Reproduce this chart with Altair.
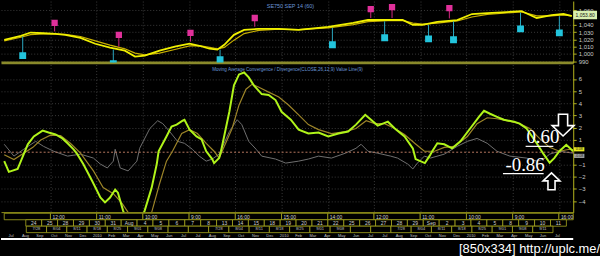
import altair as alt
import pandas as pd

# ---------------- price panel data (SE750 SEP 14, 60 min) ----------------
price_bar = [0, 3.6, 5.7, 8.5, 11.1, 13.2, 16.5, 19.7, 22.9, 26.1,
             28.3, 30.4, 33.6, 36.9, 40.1, 42.2, 44.4, 46.1, 47.6, 49.7,
             51.9, 55.1, 59.4, 63.7, 70.1, 75.5, 78.7, 83.0, 86.2, 88.4,
             90.5, 93.7, 98.0, 101.2, 104.5, 108.7, 111.9, 115.2, 118.4, 121.0,
             122.8]
ma_fast = [1019.5, 1024.9, 1029.5, 1028.5, 1027.7, 1026.3, 1022.2, 1014.0, 1008.5, 1004.4,
           996.2, 997.5, 1004.4, 1009.9, 1014.0, 1011.2, 1007.1, 1005.8, 1012.6, 1026.3,
           1033.2, 1034.5, 1034.5, 1033.2, 1037.3, 1042.7, 1046.8, 1046.8, 1046.8, 1040.0,
           1040.0, 1044.1, 1046.8, 1055.1, 1056.4, 1057.8, 1059.2, 1049.6, 1053.7, 1055.1,
           1052.3]
ma_slow = [1018.0, 1023.0, 1026.5, 1027.5, 1027.5, 1027.0, 1024.0, 1018.0, 1012.0, 1007.0,
           1001.0, 998.5, 1001.0, 1006.0, 1011.0, 1011.5, 1009.0, 1007.0, 1009.0, 1019.0,
           1028.0, 1032.5, 1034.0, 1033.5, 1036.0, 1040.5, 1044.5, 1046.0, 1046.3, 1042.5,
           1041.0, 1042.5, 1045.5, 1051.0, 1054.5, 1056.5, 1058.0, 1052.5, 1052.5, 1054.0,
           1053.0]
last_price = [1053.80]

sell_bar = [10.9, 24.8, 40.3, 54.2, 79.3, 83.9, 96.3]
sell_price = [1042.7, 1026.3, 1029.0, 1049.6, 1061.9, 1064.7, 1063.3]
sell_high = [1031.0, 1010.0, 1017.0, 1037.5, 1049.5, 1049.5, 1049.0]

buy_bar = [4.0, 23.6, 46.7, 71.0, 82.3, 91.8, 97.2, 111.7, 120.1]
buy_price = [997.5, 986.6, 992.0, 1012.6, 1022.2, 1020.8, 1019.5, 1034.5, 1029.0]
buy_low = [1024.0, 1006.0, 1006.0, 1036.0, 1045.0, 1040.0, 1045.0, 1057.0, 1052.0]

# ---------------- MACD panel data ----------------
macd_bar = [0, 1.0, 2.9, 3.6, 5.1, 6.4, 8.3, 9.6, 11.1, 12.6,
            13.7, 15.0, 15.8, 17.1, 19.0, 20.8, 21.8, 22.9, 24.0, 24.6,
            25.7, 26.8, 28.3, 29.3, 30.4, 31.9, 33.0, 33.4, 35.1, 36.2,
            37.3, 38.6, 39.0, 40.1, 41.6, 42.7, 43.7, 45.0, 45.4, 46.5,
            46.9, 48.7, 49.7, 50.8, 51.9, 52.9, 54.0, 55.7, 57.2, 58.7,
            60.0, 62.0, 63.7, 65.8, 68.0, 70.1, 72.3, 74.4, 76.1, 78.1,
            79.1, 80.8, 83.0, 84.5, 86.6, 88.4, 89.0, 91.0, 92.0, 92.6,
            93.7, 95.2, 96.9, 98.7, 100.8, 102.7, 103.8, 105.1, 106.6, 108.1,
            110.3, 111.5, 113.0, 115.2, 116.7, 118.0, 119.0, 120.1, 121.6, 123.1]
macd_val = [-0.73, -1.61, -1.37, -0.73, 0.65, 1.29, 1.77, 1.61, 1.45, 1.13,
            0.73, 0.24, -0.16, -0.97, -2.34, -3.71, -4.11, -3.71, -3.06, -3.31,
            -4.76, -6.0, -6.8, -6.0, -4.76, -2.90, -0.97, 0.08, 1.29, 2.10,
            2.26, 2.58, 2.66, 1.85, 1.29, 1.05, 0.08, -0.56, -0.89, -0.48,
            0.08, 3.31, 5.48, 6.37, 6.53, 6.13, 5.48, 4.76, 4.68, 4.27,
            3.31, 2.66, 1.85, 1.53, 1.61, 1.29, 1.53, 1.69, 2.26, 3.06,
            2.74, 2.18, 2.50, 1.94, 1.29, 0.32, -0.56, -0.89, -0.32, 0.08,
            0.73, 0.65, 0.32, 0.89, 1.94, 2.90, 3.39, 3.15, 2.90, 2.66,
            2.50, 2.34, 1.94, 0.73, -0.16, -0.86, -0.48, 0.08, 0.60, 0.08]
sig_bar = [0, 2.1, 6.2, 7.9, 10.0, 12.2, 14.3, 16.5, 19.3, 21.4,
           23.6, 25.5, 26.8, 28.3, 30.4, 31.9, 33.6, 35.1, 36.4, 38.4,
           40.1, 41.8, 43.7, 45.4, 46.5, 49.3, 50.8, 52.3, 53.6, 55.1,
           57.2, 59.4, 61.5, 63.7, 65.8, 68.0, 70.8, 73.8, 76.1, 78.3,
           80.2, 82.3, 84.5, 86.6, 88.8, 90.9, 93.1, 95.2, 97.4, 100.2,
           102.3, 104.5, 106.6, 108.7, 111.5, 113.7, 115.8, 118.0, 120.1, 122.3,
           123.1]
sig_val = [-0.2, -0.6, 0.4, 1.0, 1.4, 1.37, 0.73, -0.08, -1.53, -2.90,
           -3.39, -4.19, -4.92, -6.0, -5.7, -4.92, -2.58, -0.73, 0.08, 1.53,
           1.85, 1.53, 0.73, 0.08, -0.48, 1.94, 3.87, 5.16, 5.56, 5.32,
           4.92, 4.52, 3.87, 3.06, 2.26, 1.85, 1.53, 1.69, 1.94, 2.58,
           2.34, 2.34, 1.94, 1.45, 0.73, 0.08, 0.08, 0.40, 0.48, 1.29,
           2.34, 2.82, 2.74, 2.58, 2.34, 1.94, 1.13, 0.40, 0.08, 0.24,
           0.20]
hist_bar = [0, 2.1, 4.2, 6.8, 8.5, 10.7, 13.7, 16.5, 19.3, 20.8,
            22.3, 23.6, 24.0, 25.1, 26.8, 28.7, 29.3, 31.5, 33.2, 34.3,
            35.8, 37.5, 39.0, 40.7, 42.2, 43.7, 45.0, 46.5, 48.7, 50.4,
            51.4, 52.9, 54.5, 55.7, 58.7, 60.9, 63.7, 65.8, 68.0, 70.8,
            73.8, 76.1, 77.2, 78.7, 80.8, 83.6, 85.1, 87.3, 88.4, 89.4,
            90.9, 92.2, 95.2, 98.0, 100.2, 102.3, 104.5, 106.6, 109.4, 113.0,
            115.2, 116.7, 118.0, 120.1, 123.1]
hist_val = [0.65, -0.32, 0.24, 0.89, 0.48, 0.08, -0.32, -0.16, -0.48, -0.97,
            -1.29, -0.73, 0.24, -1.29, -1.53, -0.73, 0.32, 1.94, 2.58, 2.34,
            1.69, 0.89, 0.73, 0.24, -0.32, -0.73, -0.56, -0.16, 1.69, 2.66,
            2.26, 0.89, 0.24, -0.32, -0.56, -0.89, -0.73, -0.56, -0.32, -0.48,
            -0.08, 0.32, 0.65, 0.08, -0.08, -0.32, -0.48, -0.97, -1.37, -0.89,
            -0.32, -0.48, -0.16, 0.48, 0.89, 1.13, 0.73, 0.08, -0.32, -0.48,
            -0.73, -0.56, -0.16, 0.08, -0.08]

# annotations (label, bar, value of the marked point)
note_label = ["0.60", "-0.86"]
note_bar = [121.6, 118.0]
note_val = [0.60, -0.86]
axis_box_label = ["0.08", "-0.08"]
axis_box_val = [0.24, -0.30]

# ---------------- navigator strip labels ----------------
hour_start = [0, 10, 20, 30, 40, 50, 60, 70, 80, 90, 100, 110, 120]
hour_label = ["", "12:00", "11:00", "10:00", "9:00", "16:00", "15:00", "14:00",
              "12:00", "11:00", "10:00", "9:00", "16:00"]
day_label = ["24", "25", "28", "29", "30", "31", "Aug", "4", "5", "6", "7", "8", "13",
             "14", "15", "18", "19", "20", "21", "22", "25", "26", "27", "28", "29",
             "Sep", "2", "3", "4", "5", "8", "9", "10", "11"]
week_label = ["7/28", "8/04", "8/11", "8/18", "8/25", "9/01", "9/08", "", "",
              "7/28", "8/04", "8/11", "8/18", "8/25", "9/01", "9/08", "", "",
              "7/28", "8/04", "8/11", "8/18", "8/25", "9/01", "9/08", "9/11"]
month_label = ["Jul", "Aug", "Sep", "Oct", "Nov", "Dec", "2010", "Feb", "Mar", "Apr", "May", "Jun", "Jul"]

# ---------------- styling ----------------
X_DOM = [-0.7, 123.1]
W = 577
GRID = "#3a3a3a"
AXC = "#b4b41e"
LBL = "#c8c8c8"
BLUE = "#6a96d8"
FONT = "Liberation Sans"

xs = alt.Scale(domain=X_DOM, nice=False, zero=False)
ys_price = alt.Scale(domain=[988, 1073], nice=False, zero=False)
ys_m = alt.Scale(domain=[-4.92, 7.18], nice=False, zero=False)


def xgrid_axis(domain_color, domain_width):
    return alt.Axis(orient="bottom", values=list(range(10, 121, 10)), labels=False, ticks=False,
                    grid=True, gridColor=GRID, gridDash=[1, 2], domainColor=domain_color,
                    domainWidth=domain_width, title=None)


def yaxis(values, fmt):
    return alt.Axis(orient="right", values=values, format=fmt, labelColor=LBL, labelFontSize=6,
                    labelFont=FONT, tickColor=AXC, tickSize=3, domainColor=AXC, grid=True,
                    gridColor=GRID, gridDash=[1, 2], title=None, labelPadding=2)


# shared position encodings (identical axis specs in every layer)
def PX(field="bar"):
    return alt.X(f"{field}:Q", scale=xs, axis=xgrid_axis("#8a8a2a", 3), title=None)


def PY(field):
    return alt.Y(f"{field}:Q", scale=ys_price,
                 axis=yaxis([990, 1000, 1010, 1020, 1030, 1040, 1060], ",d"), title=None)


def MX(field="bar"):
    return alt.X(f"{field}:Q", scale=xs, axis=xgrid_axis(AXC, 1), title=None)


def MY(field):
    return alt.Y(f"{field}:Q", scale=ys_m, axis=yaxis([-4, -3, -2, -1, 1, 2, 3, 4, 5, 6], "d"), title=None)


# ---------------- top: price panel ----------------
price_df = pd.DataFrame({"bar": price_bar, "fast": ma_fast, "slow": ma_slow})
base_p = alt.Chart(price_df)
slow_line = base_p.mark_line(color="#c8b000", strokeWidth=1.2, clip=True).encode(x=PX(), y=PY("slow"))
fast_line = base_p.mark_line(color="#f0f000", strokeWidth=1.8, clip=True).encode(x=PX(), y=PY("fast"))

sell_df = pd.DataFrame({"bar": sell_bar, "price": sell_price, "high": sell_high})
buy_df = pd.DataFrame({"bar": buy_bar, "price": buy_price, "low": buy_low})

sell_stem = alt.Chart(sell_df).mark_rule(color="#d02a80", strokeWidth=1, clip=True).encode(
    x=PX(), y=PY("price"), y2="high:Q")
buy_stem = alt.Chart(buy_df).mark_rule(color="#2aa8c0", strokeWidth=1, clip=True).encode(
    x=PX(), y=PY("price"), y2="low:Q")
sell_box = alt.Chart(sell_df).mark_square(size=40, color="#e0309a", opacity=1, clip=True).encode(
    x=PX(), y=PY("price"))
buy_box = alt.Chart(buy_df).mark_square(size=48, color="#22c4dc", opacity=1, clip=True).encode(
    x=PX(), y=PY("price"))

price_title = alt.Chart(pd.DataFrame({"t": ["SE750 SEP 14  (60)"], "bar": [56.8], "p": [1066]})).mark_text(
    color=BLUE, fontSize=5.5, font=FONT, align="left", baseline="middle").encode(
    x=PX(), y=PY("p"), text="t:N")

last_df = pd.DataFrame({"p": last_price, "t": ["1,053.80"]})
last_box = alt.Chart(last_df).mark_point(
    shape="M-1,-0.3L1,-0.3L1,0.3L-1,0.3Z", size=484, filled=True, fill="#d8f0b0",
    stroke="#d8f0b0", opacity=1).encode(x=alt.value(589), y=PY("p"))
last_txt = alt.Chart(last_df).mark_text(fontSize=5, font=FONT, color="#202020").encode(
    x=alt.value(589), y=PY("p"), text="t:N")

top = alt.layer(slow_line, fast_line, sell_stem, buy_stem, sell_box, buy_box, price_title,
                last_box, last_txt).properties(width=W, height=62)

# ---------------- middle: MACD panel ----------------
hist_df = pd.DataFrame({"bar": hist_bar, "v": hist_val})
sig_df = pd.DataFrame({"bar": sig_bar, "v": sig_val})
macd_df = pd.DataFrame({"bar": macd_bar, "v": macd_val})

hist_line = alt.Chart(hist_df).mark_line(color="#707070", strokeWidth=1, clip=True).encode(x=MX(), y=MY("v"))
zero_rule = alt.Chart(pd.DataFrame({"z": [0]})).mark_rule(
    color="#b87860", strokeDash=[2, 2], strokeWidth=1).encode(y=MY("z"))
sig_line = alt.Chart(sig_df).mark_line(color="#9c8428", strokeWidth=1.2, clip=True).encode(x=MX(), y=MY("v"))
macd_line = alt.Chart(macd_df).mark_line(color="#b0f41a", strokeWidth=2, clip=True).encode(x=MX(), y=MY("v"))

macd_title = alt.Chart(pd.DataFrame({
    "t": ["Moving Average Convergence / Divergence(CLOSE,26,12,9) Value Line(9)"],
    "bar": [45.0], "v": [6.77]})).mark_text(
    color=BLUE, fontSize=4.6, font=FONT, align="left", baseline="middle").encode(
    x=MX(), y=MY("v"), text="t:N")

note_df = pd.DataFrame({"t": note_label, "bar": note_bar, "v": note_val})
note_hi = note_df.iloc[[0]]
note_lo = note_df.iloc[[1]]
txt_kw = dict(font="Liberation Serif", fontSize=19, color="white", align="right", baseline="alphabetic")
note_t1 = alt.Chart(note_hi).mark_text(dx=-7, dy=-2, **txt_kw).encode(x=MX(), y=MY("v"), text="t:N")
note_t2 = alt.Chart(note_lo).mark_text(dx=-5, dy=8, **txt_kw).encode(x=MX(), y=MY("v"), text="t:N")
under1 = alt.Chart(note_hi).mark_rule(color="white", strokeWidth=1.2).encode(
    x=MX("x0"), x2="x1:Q", y=MY("y")
).transform_calculate(x0="datum.bar - 8.8", x1="datum.bar - 2.8", y="datum.v - 0.12")
under2 = alt.Chart(note_lo).mark_rule(color="white", strokeWidth=1.2).encode(
    x=MX("x0"), x2="x1:Q", y=MY("y")
).transform_calculate(x0="datum.bar - 10.1", x1="datum.bar - 1.3", y="datum.v - 0.89")
down_arrow = alt.Chart(note_hi).mark_point(
    shape="M-0.42,-1L0.42,-1L0.42,0.05L1,0.05L0,1L-1,0.05L-0.42,0.05Z", size=484,
    filled=True, fill="black", stroke="white", strokeWidth=1.6, opacity=1).encode(
    x=MX("ax"), y=MY("ay")
).transform_calculate(ax="datum.bar - 0.7", ay="datum.v + 1.62")
up_arrow = alt.Chart(note_lo).mark_point(
    shape="M-0.42,1L0.42,1L0.42,-0.05L1,-0.05L0,-1L-1,-0.05L-0.42,-0.05Z", size=289,
    filled=True, fill="black", stroke="white", strokeWidth=1.6, opacity=1).encode(
    x=MX("ax"), y=MY("ay")
).transform_calculate(ax="datum.bar + 0.4", ay="datum.v - 1.52")

abox_df = pd.DataFrame({"t": axis_box_label, "v": axis_box_val, "c": ["#e8e820", "#a0a0a0"]})
abox = alt.Chart(abox_df).mark_point(
    shape="M-1,-0.4L1,-0.4L1,0.4L-1,0.4Z", size=110, filled=True, opacity=1).encode(
    x=alt.value(583), y=MY("v"), color=alt.Color("c:N", scale=None, legend=None))
abox_t = alt.Chart(abox_df).mark_text(fontSize=3.6, font=FONT, color="#202020").encode(
    x=alt.value(583), y=MY("v"), text="t:N")

macd = alt.layer(hist_line, zero_rule, sig_line, macd_line, macd_title, under1, under2,
                 note_t1, note_t2, down_arrow, up_arrow, abox, abox_t).properties(width=W, height=149)

# ---------------- bottom: navigator strip ----------------
rows = alt.Scale(domain=["r1", "r2", "r3", "r4"], paddingInner=0, paddingOuter=0)
cell = dict(fill="black", stroke="#a8a820", strokeWidth=0.8)
small = dict(fontSize=5, font=FONT, color="#d0d0d0")
RY = alt.Y("row:N", scale=rows, axis=None)

r1 = pd.DataFrame({"s": hour_start, "t": hour_label, "row": "r1"})
r1["e"] = r1["s"].shift(-1).fillna(X_DOM[1])
r1_rect = alt.Chart(r1).mark_rect(**cell).encode(x=alt.X("s:Q", scale=xs, axis=None), x2="e:Q", y=RY)
r1_text = alt.Chart(r1).mark_text(align="left", dx=2, **small).encode(
    x=alt.X("s:Q", scale=xs, axis=None), y=RY, text="t:N")
white_rule = alt.Chart(pd.DataFrame({"row": ["r4"]})).mark_rule(
    color="white", strokeWidth=2).encode(y=alt.Y("row:N", scale=rows, axis=None, bandPosition=1))

ds = alt.Scale(domain=[-1.56, 34.43], nice=False, zero=False)
r2 = pd.DataFrame({"i": list(range(len(day_label))), "t": day_label, "row": "r2"})
r2_rect = alt.Chart(r2).transform_calculate(e="datum.i + 1").mark_rect(**cell).encode(
    x=alt.X("i:Q", scale=ds, axis=None), x2="e:Q", y=RY)
r2_text = alt.Chart(r2).transform_calculate(m="datum.i + 0.5").mark_text(**small).encode(
    x=alt.X("m:Q", scale=ds, axis=None), y=RY, text="t:N")

ws = alt.Scale(domain=[-1.25, 27.0], nice=False, zero=False)
r3 = pd.DataFrame({"i": list(range(len(week_label))), "t": week_label, "row": "r3"})
r3_rect = alt.Chart(r3).transform_calculate(e="datum.i + 1").mark_rect(**cell).encode(
    x=alt.X("i:Q", scale=ws, axis=None), x2="e:Q", y=RY)
r3_text = alt.Chart(r3).transform_calculate(m="datum.i + 0.5").mark_text(
    fontSize=4, font=FONT, color="#c0c0c0").encode(x=alt.X("m:Q", scale=ws, axis=None), y=RY, text="t:N")

ms = alt.Scale(domain=[-0.2, 39.6], nice=False, zero=False)
r4 = pd.DataFrame({"i": list(range(3 * len(month_label))), "t": month_label * 3, "row": "r4"})
r4_text = alt.Chart(r4).transform_calculate(m="datum.i + 0.5").mark_text(
    fontSize=4, font=FONT, color="#c0c0c0").encode(x=alt.X("m:Q", scale=ms, axis=None), y=RY, text="t:N")

strip = alt.layer(r1_rect, r1_text, r2_rect, r2_text, r3_rect, r3_text, r4_text, white_rule).resolve_scale(
    x="independent").properties(width=W, height=26)

chart = alt.vconcat(top, macd, strip, spacing=0).properties(
    background="black", padding=0,
    title=alt.TitleParams("[850x334] http://uplc.me/", orient="bottom", anchor="end", color="white",
                          fontSize=13, font=FONT, fontWeight="normal", offset=3)
).configure_view(stroke=None, fill="black").configure_concat(spacing=0)

chart.save("out.html", embed_options={"renderer": "svg", "actions": False})
